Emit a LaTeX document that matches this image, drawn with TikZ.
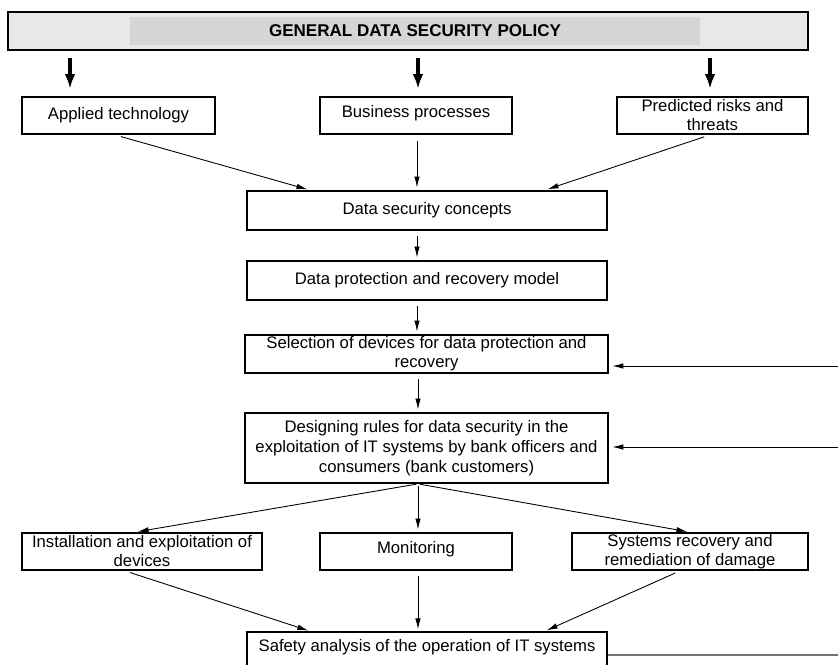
\documentclass[tikz,border=0pt]{standalone}
\usepackage{fontspec}
\setmainfont{Liberation Sans}
\usetikzlibrary{arrows.meta}

\begin{document}
\begin{tikzpicture}[x=0.02cm,y=-0.02cm,
        box/.style={draw,line width=1pt,align=center,inner sep=0pt,font=\fontsize{9.5}{10.8}\selectfont},
        link/.style={-{Latex[length=2.2mm,width=1.1mm]},line width=0.5pt},
        bigarrow/.style={-{Latex[length=3mm,width=2.1mm]},line width=1.8pt}]
            \useasboundingbox (0,0) rectangle (838,664);

            % policy banner
            \node (policy) at (408,31) [draw,line width=1.3pt,fill=black!9,minimum width=16cm,minimum height=0.76cm] {};
            \node (policytxt) at (415,31) [fill=black!16,minimum width=11.4cm,minimum height=0.56cm,font=\bfseries\fontsize{9.7}{12}\selectfont] {GENERAL DATA SECURITY POLICY};

            % first row
            \node (tech) at (118.5,115.5) [box,minimum width=3.86cm,minimum height=0.74cm] {Applied technology};
            \node (process) at (416,115.5) [box,minimum width=3.84cm,minimum height=0.74cm] {\raisebox{5pt}{Business processes}};
            \node (risks) at (712.5,115.5) [box,minimum width=3.82cm,minimum height=0.74cm] {Predicted risks and\\threats};

            \draw[bigarrow,shorten <=4pt,shorten >=4pt] (policy.south -| 70,0) -- (tech.north -| 70,0);
            \draw[bigarrow,shorten <=4pt,shorten >=4pt] (policy.south -| 418,0) -- (process.north -| 418,0);
            \draw[bigarrow,shorten <=4pt,shorten >=4pt] (policy.south -| 710,0) -- (risks.north -| 710,0);

            % middle column
            \node (concept) at (427,210.5) [box,minimum width=7.2cm,minimum height=0.78cm] {Data security concepts};
            \node (model) at (427,280.5) [box,minimum width=7.2cm,minimum height=0.78cm] {Data protection and recovery model};
            \node (select) at (426.5,354) [box,minimum width=7.26cm,minimum height=0.76cm] {Selection of devices for data protection and\\recovery};
            \node (rules) at (426.5,448) [box,minimum width=7.26cm,minimum height=1.4cm,font=\fontsize{9.5}{11.3}\selectfont] {Designing rules for data security in the\\exploitation of IT systems by bank officers and\\consumers (bank customers)};

            \draw[link,shorten <=3.5pt,shorten >=1.5pt] (tech.south -| 115,0) -- (concept.north -| 310,0);
            \draw[link,shorten <=3.5pt,shorten >=1.5pt] (process.south -| 417,0) -- (concept.north -| 417,0);
            \draw[link,shorten <=3.5pt,shorten >=1.5pt] (risks.south -| 710,0) -- (concept.north -| 545,0);
            \draw[link,shorten <=3pt,shorten >=1.5pt] (concept.south -| 417,0) -- (model.north -| 417,0);
            \draw[link,shorten <=3pt,shorten >=1.5pt] (model.south -| 417,0) -- (select.north -| 417,0);
            \draw[link,shorten <=3pt,shorten >=1.5pt] (select.south -| 418,0) -- (rules.north -| 418,0);

            % feedback from the right
            \coordinate (back1) at (838,366);
            \coordinate (back2) at (838,447);
            \draw[link,shorten >=2pt] (back1) -- (select.east |- back1);
            \draw[link,shorten >=2pt] (back2) -- (rules.east |- back2);

            % bottom row
            \node (install) at (142,551.5) [box,minimum width=4.8cm,minimum height=0.74cm] {Installation and exploitation of\\devices};
            \node (monitor) at (416,551.5) [box,minimum width=3.84cm,minimum height=0.74cm] {\raisebox{5pt}{Monitoring}};
            \node (repair) at (690,551.5) [box,minimum width=4.72cm,minimum height=0.74cm] {Systems recovery and\\remediation of damage};
            \node (safety) at (427,652) [box,minimum width=7.2cm,minimum height=0.8cm] {\raisebox{7pt}{Safety analysis of the operation of IT systems}};

            \draw[link,shorten <=1pt,shorten >=1.5pt] (rules.south -| 418,0) -- (install.north -| 135,0);
            \draw[link,shorten <=1pt,shorten >=1.5pt] (rules.south -| 418,0) -- (monitor.north -| 418,0);
            \draw[link,shorten <=1pt,shorten >=1.5pt] (rules.south -| 418,0) -- (repair.north -| 690,0);

            \draw[link,shorten <=3pt,shorten >=1pt] (install.south -| 125,0) -- (safety.north -| 310,0);
            \draw[link,shorten <=3pt,shorten >=1pt] (monitor.south -| 418,0) -- (safety.north -| 418,0);
            \draw[link,shorten <=3pt,shorten >=1pt] (repair.south -| 680,0) -- (safety.north -| 545,0);

            \coordinate (out) at (838,655);
            \draw[line width=1.2pt,black!55] (safety.east |- out) -- (out);

        \end{tikzpicture}
\end{document}
